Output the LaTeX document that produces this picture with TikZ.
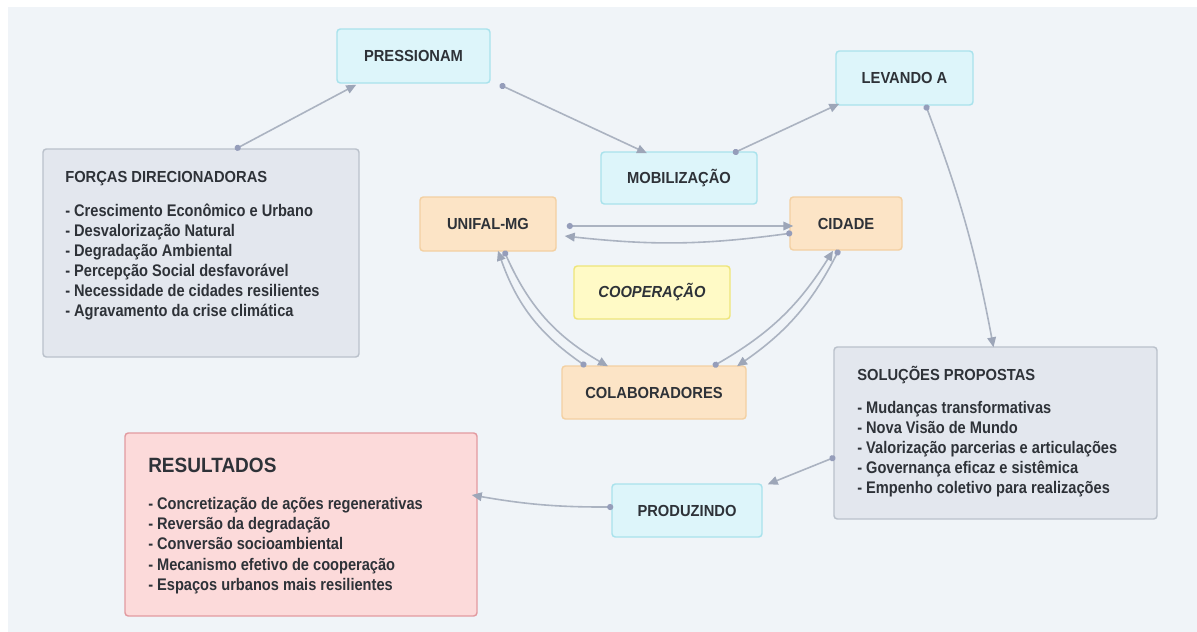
\documentclass[tikz,border=0pt]{standalone}
\usepackage{fontspec}
\setmainfont{Liberation Sans}[FakeStretch=0.92]
\newfontfamily\narrowfont{Liberation Sans}[FakeStretch=0.87]
\usetikzlibrary{arrows.meta,calc}
\definecolor{bgpanel}{HTML}{F0F4F8}
\definecolor{txt}{HTML}{2E3238}
\definecolor{cyanfill}{HTML}{DDF5FA}
\definecolor{cyanline}{HTML}{A9E2EC}
\definecolor{orfill}{HTML}{FCE4C6}
\definecolor{orline}{HTML}{F3D0A2}
\definecolor{yefill}{HTML}{FFFAC6}
\definecolor{yeline}{HTML}{EEE57A}
\definecolor{gyfill}{HTML}{E3E7EE}
\definecolor{gyline}{HTML}{BAC1CB}
\definecolor{rdfill}{HTML}{FCDADA}
\definecolor{rdline}{HTML}{E29AA0}
\definecolor{linkgray}{HTML}{ABB3C1}
\definecolor{tipgray}{HTML}{9DA6B8}
\definecolor{dotblue}{HTML}{959DBA}
\begin{document}
\begin{tikzpicture}[x=0.75pt,y=-0.75pt,
  box/.style={rectangle, rounded corners=2.5pt, line width=1.1pt, inner sep=0pt,
    font=\bfseries\fontsize{12}{14}\selectfont, text=txt},
  cyanbox/.style={box, fill=cyanfill, draw=cyanline},
  orbox/.style={box, fill=orfill, draw=orline},
  yebox/.style={box, fill=yefill, draw=yeline, font=\bfseries\itshape\fontsize{12}{14}\selectfont},
  gybox/.style={box, fill=gyfill, draw=gyline},
  rdbox/.style={box, fill=rdfill, draw=rdline},
  titletext/.style={inner sep=0pt, anchor=base west, text=txt, font=\bfseries\fontsize{12}{14}\selectfont},
  listtext/.style={inner sep=0pt, anchor=base west, text=txt, font=\narrowfont\bfseries\fontsize{12.6}{14}\selectfont},
  bigtitle/.style={inner sep=0pt, anchor=base west, text=txt, font=\bfseries\fontsize{15.5}{18}\selectfont},
  link/.style={draw=linkgray, line width=1.2pt, {Circle[length=4.6pt,color=dotblue]}-{Triangle[length=7.5pt,width=6.5pt,color=tipgray]}},
]
\useasboundingbox (0,0) rectangle (1197,632);
\fill[white] (0,0) rectangle (1197,632);
\fill[bgpanel] (8,7) rectangle (1197,632);

% boxes
\node[cyanbox, minimum width=114.75pt, minimum height=40.5pt] (press) at (413.5,56) {PRESSIONAM};
\node[cyanbox, minimum width=102.75pt, minimum height=40.5pt] (levando) at (904.5,78) {LEVANDO A};
\node[cyanbox, minimum width=117pt, minimum height=39pt] (mobil) at (679,178) {MOBILIZAÇÃO};
\node[gybox, minimum width=237pt, minimum height=156pt] (forcas) at (201,253) {};
\node[orbox, minimum width=102pt, minimum height=40.5pt] (unifal) at (488,224) {UNIFAL-MG};
\node[orbox, minimum width=84pt, minimum height=39.75pt] (cidade) at (846,223.5) {CIDADE};
\node[yebox, minimum width=117pt, minimum height=39.75pt] (coop) at (652,292.5) {COOPERAÇÃO};
\node[orbox, minimum width=138pt, minimum height=39.75pt] (colab) at (654,392.5) {COLABORADORES};
\node[gybox, minimum width=242.25pt, minimum height=129pt] (solucoes) at (995.5,433) {};
\node[rdbox, minimum width=264pt, minimum height=137.25pt] (result) at (301,524.5) {};
\node[cyanbox, minimum width=112.5pt, minimum height=39.75pt] (produz) at (687,510.5) {PRODUZINDO};

% texts
\node[titletext] (forcasT) at (65,182) {FORÇAS DIRECIONADORAS};
\foreach \t [count=\i] in {- Crescimento Econômico e Urbano, - Desvalorização Natural, - Degradação Ambiental, - Percepção Social desfavorável, - Necessidade de cidades resilientes, - Agravamento da crise climática}
  \node[listtext] (forcasL\i) at (65,196+20*\i) {\t};

\node[titletext] (solucoesT) at (857,380) {SOLUÇÕES PROPOSTAS};
\foreach \t [count=\i] in {- Mudanças transformativas, - Nova Visão de Mundo, - Valorização parcerias e articulações, - Governança eficaz e sistêmica, - Empenho coletivo para realizações}
  \node[listtext] (solucoesL\i) at (857,393+20*\i) {\t};

\node[bigtitle] (resultT) at (148,472) {RESULTADOS};
\foreach \t [count=\i] in {- Concretização de ações regenerativas, - Reversão da degradação, - Conversão socioambiental, - Mecanismo efetivo de cooperação, - Espaços urbanos mais resilientes}
  \node[listtext] (resultL\i) at (148,488.6+20.4*\i) {\t};

% connectors
\draw[link] ($(forcas.north)+(34,1)$) -- ($(press.south west)+(20,1)$);
\draw[link] ($(press.south east)+(9,1)$) -- ($(mobil.north)+(-32,2)$);
\draw[link] ($(mobil.north)+(54,2)$) -- ($(levando.south west)+(4,-2)$);
\draw[link] ($(levando.south)+(21,-1)$) to[bend left=5] ($(solucoes.north)+(-2,1)$);
\draw[link] ($(solucoes.west)+(2,24)$) -- ($(produz.north east)+(5,1)$);
\draw[link] ($(produz.west)+(2,-3.5)$) to[bend left=5] ($(result.east)+(-6,-29.5)$);
\draw[link] ($(unifal.east)+(10,2)$) -- ($(cidade.west)+(4,2.5)$);
\draw[link] ($(cidade.west)+(3,9.5)$) to[bend left=7] ($(unifal.east)+(8,12)$);
\draw[link] ($(unifal.south)+(16,-1)$) to[bend right=18] ($(colab.north)+(-46,1)$);
\draw[link] ($(colab.north)+(-68,1)$) to[bend left=18] ($(unifal.south)+(10,-1)$);
\draw[link] ($(colab.north)+(59,1)$) to[bend right=14] ($(cidade.south)+(-13,0)$);
\draw[link] ($(cidade.south)+(-7,-1)$) to[bend left=14] ($(colab.north)+(83,1)$);
\end{tikzpicture}
\end{document}
